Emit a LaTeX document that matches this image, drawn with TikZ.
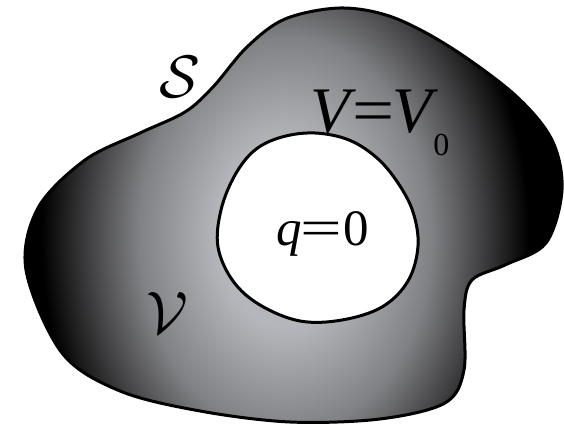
\documentclass[tikz,border=0pt]{standalone}
\usepackage{fontspec}
\setmainfont{Liberation Serif}
\usetikzlibrary{positioning}
\definecolor{lightblob}{RGB}{180,182,187}
\definecolor{midblob}{RGB}{128,129,132}
\definecolor{darkblob}{RGB}{66,66,68}
\pgfdeclareradialshading{blobshade}{\pgfpointorigin}{color(0bp)=(lightblob); color(7bp)=(lightblob); color(15bp)=(midblob); color(20bp)=(darkblob); color(25bp)=(black); color(50bp)=(black)}

\begin{document}
\begin{tikzpicture}[x=0.5pt, y=-0.5pt,
  rim/.style={line width=1.5pt, line join=round},
  lbl/.style={inner sep=0pt, anchor=base west},
  cal/.style={inner sep=0pt, scale=3}]
\useasboundingbox (0,0) rectangle (564,428);
\draw[rim, path picture={
    \fill[black] (path picture bounding box.south west) rectangle (path picture bounding box.north east);
    \shade[shading=blobshade] (285,235) ellipse (122pt and 165pt);}]
  plot[smooth cycle, tension=0.55] coordinates {(26,270) (38,208) (85,160) (140,133) (185,112) (213,87)
  (247,47) (285,19) (340,8) (392,17) (450,47) (515,95) (552,140) (562,190) (546,243) (505,265) (472,280)
  (464,310) (464,370) (445,403) (380,419) (290,422) (200,411) (120,391) (62,353)};
\draw[rim, fill=white] plot[smooth cycle, tension=0.6] coordinates {(282,137) (315,133) (349,140)
  (377,158) (398,183) (413,212) (418,246) (408,281) (382,307) (342,320) (300,321) (260,305) (233,281)
  (218,247) (221,210) (235,175) (255,150)};
\node[cal] (surf) at (180,77) {$\mathcal{S}$};
\node[cal] (vol) at (167,313) {$\mathcal{V}$};
\node[lbl, font=\fontsize{32.5}{33}\selectfont] (pot) at (310,133)
  {\textit{V}\kern-2pt\scalebox{1.15}[1]{=}\kern-1pt\textit{V}\kern-2.5pt\raisebox{-11.5pt}{\fontsize{16}{16}\selectfont 0}};
\node[lbl, font=\fontsize{25.5}{26}\selectfont] (chg) at (276,245)
  {\textit{q}\kern-0.5pt\scalebox{1.45}[1]{=}\kern0.5pt0};
\end{tikzpicture}
\end{document}
